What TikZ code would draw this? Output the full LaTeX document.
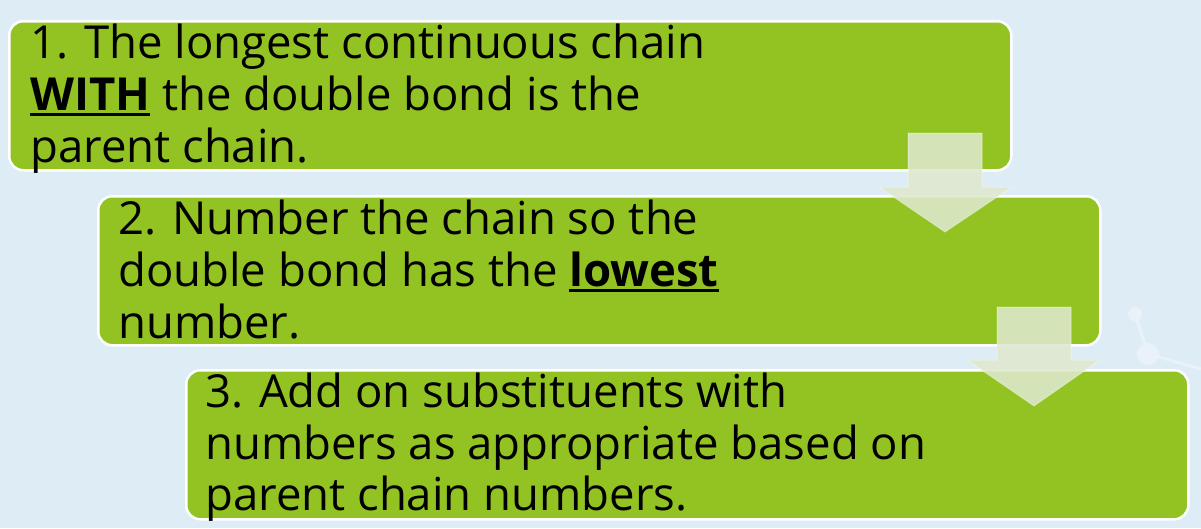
\documentclass[tikz,border=0pt]{standalone}
\usepackage{fontspec}
\setmainfont{Open Sans}
\definecolor{bg}{RGB}{222,236,245}
\definecolor{leaf}{RGB}{146,195,35}
\definecolor{arr}{RGB}{222,232,207}
\definecolor{mol}{RGB}{233,242,249}
\newcommand\ulbf[1]{\setbox0\hbox{\bfseries #1}\rlap{\rule[-6pt]{\wd0}{3.5pt}}\box0\relax}
\begin{document}
\begin{tikzpicture}[x=1pt,y=-1pt,
  box/.style={draw=white, line width=2.5pt, fill=leaf, rounded corners=14pt,
    inner sep=0pt, anchor=north west, minimum width=1002pt, minimum height=149pt},
  txt/.style={anchor=base west, inner sep=0pt, font=\fontsize{45.5}{52}\selectfont},
  blk/.style={fill=arr, fill opacity=0.87, draw=white, draw opacity=0.35, line width=1pt},
  molline/.style={draw=mol, line width=3pt},
  molball/.style={fill=mol}]
\useasboundingbox (0,0) rectangle (1201,528);
\fill[bg] (0,0) rectangle (1201,528);
% faint background molecule
\coordinate (m1) at (1135,314);
\coordinate (m2) at (1148,354);
\coordinate (m3) at (1201,369);
\draw[molline] (m1) -- (m2) -- (m3);
\fill[molball] (m1) circle (7);
\fill[molball] (m2) circle (11);
% boxes
\node[box] (b1) at (8,20) {};
\node[box] (b2) at (97,195) {};
\node[box] (b3) at (185,369) {};
% block arrows
\draw[blk] (908,133) -- (982,133) -- (982,187) -- (1012,187) -- (945,232)
  -- (879,187) -- (908,187) -- cycle;
\draw[blk] (997,307) -- (1071,307) -- (1071,360) -- (1100,360) -- (1034,406)
  -- (967,360) -- (997,360) -- cycle;
% texts
\node[txt] (t1a) at (30,58) {1. The longest continuous chain};
\node[txt] (t1b) at (30,110) {\ulbf{WITH} the double bond is the};
\node[txt] (t1c) at (30,162) {parent chain.};
\node[txt] (t2a) at (118,234) {2. Number the chain so the};
\node[txt] (t2b) at (118,286) {double bond has the \ulbf{lowest}};
\node[txt] (t2c) at (118,338) {number.};
\node[txt] (t3a) at (205,407) {3. Add on substituents with};
\node[txt] (t3b) at (205,459) {numbers as appropriate based on};
\node[txt] (t3c) at (205,510) {parent chain numbers.};
\end{tikzpicture}
\end{document}
